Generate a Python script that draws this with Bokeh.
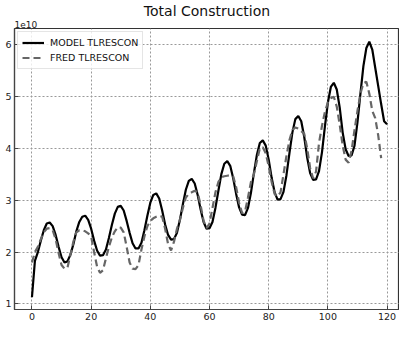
from bokeh.plotting import figure
from bokeh.models import Title, FixedTicker, Range1d
from bokeh.embed import file_html
from bokeh.resources import INLINE

# ---------------- data (values in units of 1e10) ----------------
title_text = "Total Construction"
offset_text = "1e10"
model_label = "MODEL TLRESCON"
fred_label = "FRED TLRESCON"

model_vals = [
    1.13, 1.83, 2.00, 2.22, 2.42, 2.55, 2.57, 2.50, 2.33, 2.10, 1.90, 1.80,
    1.82, 1.95, 2.15, 2.40, 2.58, 2.68, 2.70, 2.62, 2.45, 2.22, 2.03, 1.93,
    1.94, 2.05, 2.27, 2.52, 2.74, 2.87, 2.89, 2.80, 2.60, 2.37, 2.17, 2.07,
    2.07, 2.18, 2.42, 2.70, 2.95, 3.10, 3.13, 3.03, 2.80, 2.53, 2.33, 2.24,
    2.25, 2.37, 2.62, 2.92, 3.20, 3.37, 3.41, 3.32, 3.10, 2.82, 2.58, 2.45,
    2.46, 2.58, 2.85, 3.18, 3.50, 3.70, 3.75, 3.66, 3.42, 3.12, 2.86, 2.72,
    2.71, 2.85, 3.14, 3.52, 3.87, 4.10, 4.15, 4.05, 3.78, 3.43, 3.15, 3.01,
    3.02, 3.16, 3.48, 3.90, 4.30, 4.56, 4.62, 4.52, 4.22, 3.82, 3.52, 3.39,
    3.40, 3.56, 3.92, 4.42, 4.88, 5.18, 5.26, 5.13, 4.78, 4.30, 3.98, 3.85,
    3.86, 4.05, 4.50, 5.05, 5.58, 5.93, 6.05, 5.90, 5.55, 5.20, 4.85, 4.52,
    4.46,
]
model_x = list(range(len(model_vals)))

fred_vals = [
    1.80, 2.00, 2.10, 2.25, 2.38, 2.45, 2.46, 2.42, 2.25, 1.98, 1.75, 1.68,
    1.70, 1.95, 2.20, 2.38, 2.42, 2.42, 2.40, 2.36, 2.30, 2.00, 1.72, 1.60,
    1.65, 1.88, 2.10, 2.28, 2.40, 2.48, 2.47, 2.38, 2.10, 1.80, 1.68, 1.67,
    1.75, 2.05, 2.30, 2.50, 2.60, 2.65, 2.68, 2.70, 2.68, 2.45, 2.15, 2.03,
    2.20, 2.45, 2.62, 2.85, 3.05, 3.12, 3.15, 3.18, 3.15, 2.90, 2.60, 2.46,
    2.55, 2.85, 3.15, 3.35, 3.44, 3.46, 3.47, 3.48, 3.46, 3.25, 2.95, 2.75,
    2.78, 3.05, 3.35, 3.50, 3.75, 4.00, 4.02, 3.90, 3.65, 3.35, 3.12, 3.07,
    3.15, 3.50, 3.85, 4.15, 4.35, 4.40, 4.38, 4.33, 4.28, 4.00, 3.62, 3.42,
    3.55, 4.10, 4.43, 4.70, 4.88, 4.96, 4.99, 4.80, 4.45, 4.05, 3.78, 3.72,
    3.95, 4.35, 4.72, 5.05, 5.25, 5.28, 5.05, 4.72, 4.58, 4.25, 3.81,
]
fred_x = list(range(len(fred_vals)))

x_ticks = [0, 20, 40, 60, 80, 100, 120]
y_ticks = [1, 2, 3, 4, 5, 6]
y_tick_labels = {1: "1", 2: "2", 3: "3", 4: "4", 5: "5", 6: "6"}

font = "DejaVu Sans"

# ---------------- figure ----------------
p = figure(
    width=399, height=324, title=None,
    output_backend="svg", toolbar_location=None,
    x_range=Range1d(-5.9, 124.2), y_range=Range1d(0.894, 6.305),
    min_border_left=14, min_border_right=0, min_border_top=4, min_border_bottom=15,
    background_fill_color="white", border_fill_color="white",
)
p.outline_line_color = "#333333"
p.outline_line_width = 1.2

# "1e10" closest to the frame, main title above it
off_title = Title(text=offset_text, align="left", text_font=font, text_font_size="9px",
                  text_font_style="normal", text_color="#222222", standoff=1)
p.add_layout(off_title, "above")
main_title = Title(text=title_text, align="center", text_font=font, text_font_size="14px",
                   text_font_style="normal", text_color="#111111", standoff=0)
p.add_layout(main_title, "above")

p.xaxis.ticker = FixedTicker(ticks=x_ticks)
p.yaxis.ticker = FixedTicker(ticks=y_ticks)
p.yaxis.major_label_overrides = y_tick_labels
for ax in (p.xaxis, p.yaxis):
    ax.major_tick_in = 4
    ax.major_tick_out = 0
    ax.minor_tick_line_color = None
    ax.major_label_text_font = font
    ax.major_label_text_font_size = "9.5px"
    ax.major_label_text_color = "#222222"
    ax.axis_line_color = "#444444"
    ax.axis_line_width = 1.2
    ax.major_tick_line_color = "#444444"
p.xaxis.major_label_standoff = 3
p.yaxis.major_label_standoff = 3

p.grid.grid_line_color = "#999999"
p.grid.grid_line_dash = "2 2"
p.grid.grid_line_width = 1
p.xgrid.ticker = FixedTicker(ticks=x_ticks)
p.ygrid.ticker = FixedTicker(ticks=y_ticks)

p.line(model_x, model_vals, line_color="black", line_width=2.2, legend_label=model_label)
p.line(fred_x, fred_vals, line_color="#666666", line_width=2.2, line_dash="7 4",
       legend_label=fred_label)

leg = p.legend[0]
leg.location = "top_left"
leg.margin = 3
leg.padding = 4
leg.spacing = 2
leg.label_height = 13
leg.glyph_height = 13
leg.glyph_width = 22
leg.label_standoff = 6
leg.label_text_font = font
leg.label_text_font_size = "9.5px"
leg.label_text_color = "#111111"
leg.border_line_color = "#cccccc"
leg.border_line_width = 1
leg.background_fill_color = "white"
leg.background_fill_alpha = 0.8

open("out.html", "w").write(file_html(p, INLINE))
